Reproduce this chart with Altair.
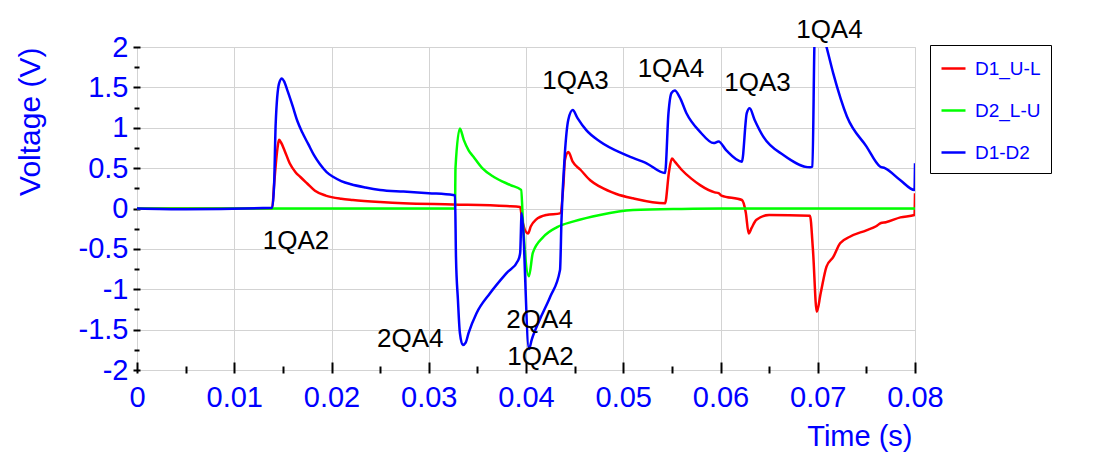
import altair as alt
import pandas as pd

# ---- data ----
series_names = ["D1_U-L", "D2_L-U", "D1-D2"]
series_colors = ["#ff0000", "#00ff00", "#0000ff"]

t_red = [0, 0.0139, 0.0141, 0.01445, 0.0146, 0.0148, 0.0152, 0.0157, 0.0163, 0.0168, 0.0175,
         0.0183, 0.0194, 0.0210, 0.0222, 0.0250, 0.0274, 0.0325, 0.0380, 0.0394, 0.0396,
         0.0402, 0.0405, 0.0410, 0.0421, 0.0435, 0.04385, 0.0440, 0.04436, 0.0448, 0.0456,
         0.0466, 0.0476, 0.0493, 0.0510, 0.0543, 0.0547, 0.0550, 0.0553, 0.0560, 0.0570,
         0.0579, 0.0594, 0.0598, 0.0601, 0.0622, 0.0626, 0.0629, 0.0632, 0.0637, 0.0650,
         0.0692, 0.0695, 0.0699, 0.0703, 0.0709, 0.0716, 0.0723, 0.0733, 0.0750, 0.0760,
         0.0765, 0.0770, 0.0785, 0.07995, 0.0800]
v_red = [0, 0.0, 0.3, 0.75, 0.85, 0.82, 0.71, 0.56, 0.45, 0.39, 0.31,
         0.22, 0.16, 0.12, 0.105, 0.08, 0.064, 0.05, 0.03, 0.02, -0.14,
         -0.31, -0.22, -0.14, -0.08, -0.06, 0.3, 0.60, 0.70, 0.58, 0.48,
         0.35, 0.27, 0.18, 0.126, 0.064, 0.45, 0.62, 0.58, 0.48, 0.37,
         0.29, 0.20, 0.19, 0.16, 0.105, -0.05, -0.31, -0.24, -0.14, -0.08,
         -0.09, -0.5, -1.28, -1.05, -0.72, -0.60, -0.43, -0.35, -0.27, -0.22,
         -0.18, -0.17, -0.11, -0.08, 0.19]

t_green = [0, 0.0327, 0.03275, 0.0332, 0.0336, 0.0341, 0.0346, 0.0355, 0.0367, 0.0384,
           0.0395, 0.0397, 0.0403, 0.0407, 0.0418, 0.0432, 0.0449, 0.0476, 0.0510, 0.0560,
           0.0600, 0.0800]
v_green = [0, 0.0, 0.5, 0.99, 0.85, 0.72, 0.64, 0.50, 0.39, 0.29,
           0.23, -0.2, -0.84, -0.55, -0.35, -0.23, -0.16, -0.08, -0.02, -0.005,
           0.0, 0.0]

t_blue = [0, 0.005, 0.0139, 0.0141, 0.01426, 0.01461, 0.0149, 0.0151, 0.0155, 0.0160, 0.0165,
          0.0170, 0.0176, 0.0182, 0.0188, 0.0195, 0.0202, 0.0210, 0.0220, 0.0235, 0.0250,
          0.0274, 0.0300, 0.0325, 0.0327, 0.0328, 0.0330, 0.0332, 0.0335, 0.0338, 0.0341,
          0.0349, 0.0363, 0.0380, 0.0392, 0.0394, 0.03955, 0.0403, 0.0406, 0.0414, 0.0425,
          0.0435, 0.04365, 0.0440, 0.04435, 0.0448, 0.0453, 0.0462, 0.0476, 0.0503, 0.0524,
          0.0543, 0.05465, 0.05496, 0.0553, 0.0558, 0.0565, 0.0579, 0.0593, 0.0598, 0.0606,
          0.0622, 0.0627, 0.0630, 0.0635, 0.0644, 0.0665, 0.0692, 0.06945, 0.0697, 0.0702,
          0.0709, 0.0716, 0.0730, 0.0750, 0.0764, 0.0769, 0.0785, 0.07995, 0.0800]
v_blue = [0, -0.01, 0.01, 0.3, 1.05, 1.55, 1.61, 1.58, 1.45, 1.27, 1.08,
          0.94, 0.80, 0.66, 0.55, 0.45, 0.39, 0.34, 0.30, 0.26, 0.23,
          0.21, 0.19, 0.167, 0.16, -0.6, -1.13, -1.54, -1.69, -1.66, -1.54,
          -1.30, -1.05, -0.80, -0.64, -0.55, -0.06, -1.74, -1.62, -1.38, -1.09,
          -0.76, -0.14, 0.69, 1.10, 1.22, 1.12, 0.97, 0.83, 0.66, 0.56,
          0.44, 1.18, 1.43, 1.46, 1.38, 1.18, 0.95, 0.81, 0.83, 0.72,
          0.58, 1.18, 1.24, 1.10, 0.89, 0.66, 0.51, 0.52, 2.2, 2.3,
          2.0, 1.67, 1.14, 0.77, 0.52, 0.50, 0.35, 0.23, 0.56]

ann_text = ["1QA2", "2QA4", "2QA4", "1QA2", "1QA3", "1QA4", "1QA3", "1QA4"]
ann_t = [0.01635, 0.0281, 0.0414, 0.0415, 0.0451, 0.0549, 0.0638, 0.0712]
ann_v = [-0.40, -1.62, -1.38, -1.84, 1.58, 1.73, 1.55, 2.21]

x_major = [0, 0.01, 0.02, 0.03, 0.04, 0.05, 0.06, 0.07, 0.08]
x_minor = [0.005, 0.015, 0.025, 0.035, 0.045, 0.055, 0.065, 0.075]
y_major = [-2, -1.5, -1, -0.5, 0, 0.5, 1, 1.5, 2]
y_minor = [-1.75, -1.25, -0.75, -0.25, 0.25, 0.75, 1.25, 1.75]

# ---- build table ----
rows = []
i = 0
for name, ts, vs in zip(series_names, [t_red, t_green, t_blue], [v_red, v_green, v_blue]):
    for t, v in zip(ts, vs):
        rows.append({"t": t, "v": v, "series": name, "i": i})
        i += 1
df = pd.DataFrame(rows)
ann = pd.DataFrame({"label": ann_text, "t": ann_t, "v": ann_v})

FONT = "Liberation Sans"
BLUE = "#0000ff"
xscale = alt.Scale(domain=[0, 0.08], nice=False, zero=False)
yscale = alt.Scale(domain=[-2, 2], nice=False, zero=False)

color = alt.Color(
    "series:N",
    scale=alt.Scale(domain=series_names, range=series_colors),
    legend=alt.Legend(
        title=None, orient="none", legendX=793, legendY=-2,
        symbolType="stroke", symbolSize=576, symbolStrokeWidth=2.5,
        labelFontSize=19, labelColor=BLUE, labelFont=FONT, labelOffset=8,
        rowPadding=18, padding=10, strokeColor="black",
        fillColor="white",
    ),
)

lines = alt.Chart(df).mark_line(strokeWidth=2.5, clip=True, interpolate="monotone").encode(
    x=alt.X("t:Q", scale=xscale, axis=alt.Axis(
        orient="bottom", values=x_major, ticks=False, domain=False,
        grid=True, gridColor="#d3d3d3", gridWidth=1,
        labelExpr="'' + datum.value", labelFontSize=29, labelColor=BLUE, labelFont=FONT,
        labelPadding=13, labelFlush=False, labelOverlap=False,
        title="Time (s)", titleFontSize=29, titleColor=BLUE, titleFont=FONT,
        titleFontWeight="normal", titleX=775, titleY=75, titleAlign="right",
        titleBaseline="alphabetic", titleAngle=0)),
    y=alt.Y("v:Q", scale=yscale, axis=alt.Axis(
        orient="left", values=y_major, ticks=False, domain=False,
        grid=True, gridColor="#d3d3d3", gridWidth=1,
        labelExpr="'' + datum.value", labelFontSize=29, labelColor=BLUE, labelFont=FONT,
        labelPadding=9, labelFlush=False, labelOverlap=False,
        title="Voltage (V)", titleFontSize=30, titleColor=BLUE, titleFont=FONT,
        titleFontWeight="normal", titleX=-98, titleY=0, titleAlign="right",
        titleBaseline="alphabetic", titleAngle=-90)),
    color=color,
    order=alt.Order("i:Q"),
)

def tick_layer(xvals, yvals, xoff, xsize, yoff, ysize):
    return alt.Chart(df).mark_line(opacity=0).encode(
        x=alt.X("t:Q", scale=xscale, axis=alt.Axis(
            orient="bottom", values=xvals, labels=False, domain=False, grid=False,
            ticks=True, tickSize=xsize, tickColor="black", tickWidth=2,
            offset=xoff, title=None)),
        y=alt.Y("v:Q", scale=yscale, axis=alt.Axis(
            orient="left", values=yvals, labels=False, domain=False, grid=False,
            ticks=True, tickSize=ysize, tickColor="black", tickWidth=2,
            offset=yoff, title=None)),
        detail="series:N",
    )

major_ticks = tick_layer(x_major, y_major, -8, 11, -3, 7)
minor_ticks = tick_layer(x_minor, y_minor, -4, 7, -2, 5)

labels = alt.Chart(ann).mark_text(
    fontSize=26, font=FONT, color="black", baseline="middle", align="center"
).encode(
    x=alt.X("t:Q", scale=xscale, axis=None),
    y=alt.Y("v:Q", scale=yscale, axis=None),
    text="label:N",
)

chart = alt.layer(lines, major_ticks, minor_ticks, labels).resolve_axis(
    x="independent", y="independent"
).properties(
    width=778, height=323,
    padding={"left": 129, "top": 39, "right": 178, "bottom": 85},
    autosize=alt.AutoSizeParams(type="none"),
).configure_view(
    stroke="black", strokeWidth=2
).configure(
    font=FONT
)

chart.save("out.html", embed_options={"renderer": "svg", "actions": False})
